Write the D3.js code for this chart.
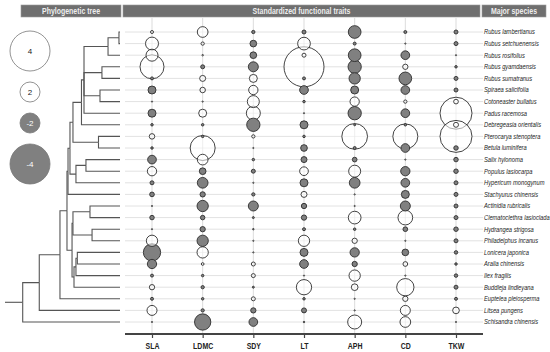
<!DOCTYPE html>
<html>
<head>
<meta charset="utf-8">
<script src="https://cdn.jsdelivr.net/npm/d3@7"></script>
<style>
  body { margin: 0; background: #fff; }
  text { font-family: "Liberation Sans", "Open Sans", sans-serif; }
</style>
</head>
<body>
<script>
// species, top to bottom
const species = [
  "Rubus lambertianus", "Rubus setchuenensis", "Rubus rosifolius", "Rubus gyamdaensis",
  "Rubus sumatranus", "Spiraea salicifolia", "Cotoneaster bullatus", "Padus racemosa",
  "Debregeasia orientalis", "Pterocarya stenoptera", "Betula luminifera", "Salix hylonoma",
  "Populus lasiocarpa", "Hypericum monogynum", "Stachyurus chinensis", "Actinidia rubricalis",
  "Clematoclethra lasioclada", "Hydrangea strigosa", "Philadelphus incanus", "Lonicera japonica",
  "Aralia chinensis", "Ilex fragilis", "Buddleja lindleyana", "Euptelea pleiosperma",
  "Litsea pungens", "Schisandra chinensis"
];

const traits = ["SLA", "LDMC", "SDY", "LT", "APH", "CD", "TKW"];

// standardized values, one array per trait (same order as species)
const SLA  = [0.3, 1.3, 1.2, 2.4, -0.3, -0.8, 0.1, -0.8, -0.25, 0.55, -0.25, -0.87, 0.93, -0.4, -0.47, 0.1, -0.45, 0, 1.13, -1.73, -0.93, -0.3, 0.53, -0.3, 1.0, 0.1];
const LDMC = [1.07, 0.33, 0.15, -0.4, 0.6, 0.55, 0.1, 0.8, -0.25, -0.25, 2.5, 1.07, -0.67, -1.07, -0.53, -1.13, -0.45, -0.53, -1.13, 1.13, 0.27, -0.25, -0.33, -0.25, -0.33, -1.63];
const SDY  = [-0.33, -0.67, -0.67, -1.0, 0.8, 0.93, 1.2, 1.4, -1.33, 0.33, 0.1, -0.25, -0.4, 0.05, -0.33, -1.0, -0.2, -0.15, 0.05, 0.05, 0.4, 0.4, -0.2, 0.4, -0.53, -0.87];
const LT   = [-0.4, 1.27, 0.4, 4.0, -0.3, -0.87, -0.25, 0.05, -0.8, -0.25, -0.67, -0.6, 0.87, -0.8, 0.6, -0.53, -0.53, -0.3, 1.13, -0.8, -0.87, 0.05, 1.53, -0.25, -0.5, -0.15];
const APH  = [-1.27, -0.3, -1.27, -1.33, -1.13, -0.8, 0.93, -1.33, -0.2, 2.57, -0.3, -0.47, 1.2, -1.07, 0.05, 0.05, 1.27, -0.25, 0.53, -0.93, -0.53, 1.13, 0.67, 0.05, 0.05, 1.4];
const CD   = [-0.3, 0.05, -0.87, 0.53, -1.27, -0.87, 0.33, -0.87, -0.25, 2.5, -0.87, 0.1, -0.93, -0.87, -0.8, -1.0, 1.47, -0.47, 0.05, -0.67, 0.47, 0.1, 1.73, 0.53, 1.0, 1.07];
const TKW  = [-0.4, -0.4, 0.1, -0.25, -0.4, -0.4, 0.47, 3.2, 0.5, 3.2, -0.45, -0.45, -0.45, -0.4, -0.4, -0.4, -0.4, -0.45, -0.4, -0.35, -0.25, -0.35, -0.4, -0.3, 0.67, 0.1];
const traitValues = [SLA, LDMC, SDY, LT, APH, CD, TKW];

// legend values
const legendValues = [4, 2, -2, -4];

// phylogeny: [relative node depth (0 = root, 1 = tips), children...]; leaves = species index
const phylo =
  [0.154,
    [0.298,
      [0.478,
        [0.539,
          [0.548,
            [0.565,
              [0.591,
                [0.665,
                  [0.687, [0.896, [0.991, 0, 1], 2], [0.843, 3, 4], [0.826, 5, 6], 7],
                  8],
                [0.813, 9, 10]],
              [0.617, [0.704, 11, 12], 13]],
            14],
          [0.583,
            [0.591, [0.739, 15, 16], [0.757, 17, 18]],
            [0.6, [0.617, [0.629, 19, 20], 21], 22]]],
        23],
      24],
    25];

const width = 550, height = 352;
const squeeze = 0.82; // the original type is condensed

const svg = d3.select("body").append("svg")
  .attr("width", width)
  .attr("height", height);

// scales
const x = d3.scalePoint().domain(traits).range([152, 456]);
const y = d3.scalePoint().domain(species).range([32, 322]);
const r = d3.scaleLinear().domain([0, 4]).range([0, 20]);
const treeX = d3.scaleLinear().domain([0, 1]).range([5, 120]);

const gridLeft = 125, gridRight = 483, axisY = 334;

// header bars
const headers = [
  {label: "Phylogenetic tree", x0: 21, x1: 121},
  {label: "Standardized functional traits", x0: 123, x1: 480},
  {label: "Major species", x0: 482, x1: 546}
];
const head = svg.append("g");
head.selectAll("rect").data(headers).enter().append("rect")
  .attr("x", d => d.x0).attr("y", 5)
  .attr("width", d => d.x1 - d.x0).attr("height", 12)
  .attr("fill", "#6f6f6f")
  .attr("stroke", "#9a9a9a").attr("stroke-width", 0.6);
head.selectAll("text").data(headers).enter().append("text")
  .attr("transform", d => "translate(" + (d.x0 + d.x1) / 2 + ",14) scale(" + squeeze + ",1)")
  .attr("text-anchor", "middle")
  .attr("font-size", 8.5).attr("font-weight", "bold")
  .attr("fill", "#eeeeee")
  .text(d => d.label);

// grid
svg.append("g").selectAll("line").data(species).enter().append("line")
  .attr("x1", gridLeft).attr("x2", gridRight)
  .attr("y1", d => y(d)).attr("y2", d => y(d))
  .attr("stroke", "#e2e2e2").attr("stroke-width", 1);

svg.append("g").selectAll("line").data(traits).enter().append("line")
  .attr("x1", d => x(d)).attr("x2", d => x(d))
  .attr("y1", 18).attr("y2", axisY)
  .attr("stroke", "#c4c4c4").attr("stroke-width", 0.6);

// bubbles
const cells = [];
traits.forEach((t, j) => {
  species.forEach((s, i) => {
    cells.push({trait: t, species: s, value: traitValues[j][i]});
  });
});
cells.sort((a, b) => Math.abs(b.value) - Math.abs(a.value));

svg.append("g").selectAll("circle").data(cells).enter().append("circle")
  .attr("cx", d => x(d.trait))
  .attr("cy", d => y(d.species))
  .attr("r", d => Math.max(r(Math.abs(d.value)), 0.6))
  .attr("fill", d => d.value < 0 ? "#808080" : "#fff")
  .attr("fill-opacity", d => d.value < 0 ? 1 : 0.55)
  .attr("stroke", "#2e2e2e")
  .attr("stroke-width", 0.9);

// x axis
const xAxis = d3.axisBottom(x).tickSize(4).tickSizeOuter(0);
const axisG = svg.append("g")
  .attr("transform", "translate(0," + axisY + ")")
  .call(xAxis);
axisG.select(".domain").remove();
axisG.append("line")
  .attr("x1", gridLeft).attr("x2", gridRight)
  .attr("stroke", "#444").attr("stroke-width", 2);
axisG.selectAll(".tick line").attr("stroke", "#444").attr("stroke-width", 1.2);
axisG.selectAll(".tick text")
  .attr("y", 0).attr("dy", 0)
  .attr("transform", "translate(0,15) scale(" + squeeze + ",1)")
  .attr("font-size", 8.5).attr("font-weight", "bold")
  .attr("font-family", "'Liberation Sans', sans-serif")
  .attr("fill", "#222");

// species labels
svg.append("g").selectAll("text").data(species).enter().append("text")
  .attr("transform", d => "translate(484," + y(d) + ") scale(" + squeeze + ",1)")
  .attr("dy", "0.35em")
  .attr("font-size", 7).attr("font-style", "italic")
  .attr("fill", "#222")
  .text(d => d);

// phylogenetic tree
const root = d3.hierarchy(phylo, d => Array.isArray(d) ? d.slice(1) : null);
root.eachAfter(n => {
  n.px = Array.isArray(n.data) ? treeX(n.data[0]) : treeX(1);
  if (n.children) {
    n.py = (n.children[0].py + n.children[n.children.length - 1].py) / 2;
  } else {
    n.py = y(species[n.data]);
  }
});

const treeG = svg.append("g")
  .attr("fill", "none")
  .attr("stroke", "#555")
  .attr("stroke-width", 1.1);

treeG.selectAll("path").data(root.links()).enter().append("path")
  .attr("d", l => "M" + l.source.px + "," + l.source.py +
    "V" + l.target.py + "H" + l.target.px);

// root stem
treeG.append("path")
  .attr("d", "M" + treeX(0) + "," + root.py + "H" + root.px);

// size legend
const legend = svg.append("g");
let acc = 31;
const legendPos = legendValues.map(v => {
  const rr = r(Math.abs(v));
  const cy = acc + rr;
  acc = cy + rr + 11;
  return {value: v, cy: cy, rr: rr};
});
legend.selectAll("circle").data(legendPos).enter().append("circle")
  .attr("cx", 30).attr("cy", d => d.cy).attr("r", d => d.rr)
  .attr("fill", d => d.value < 0 ? "#808080" : "#fff")
  .attr("stroke", "#777").attr("stroke-width", 0.8);
legend.selectAll("text").data(legendPos).enter().append("text")
  .attr("x", 30).attr("y", d => d.cy).attr("dy", "0.35em")
  .attr("text-anchor", "middle")
  .attr("font-size", 8)
  .attr("fill", d => d.value < 0 ? "#fff" : "#222")
  .text(d => d.value);
</script>
</body>
</html>
